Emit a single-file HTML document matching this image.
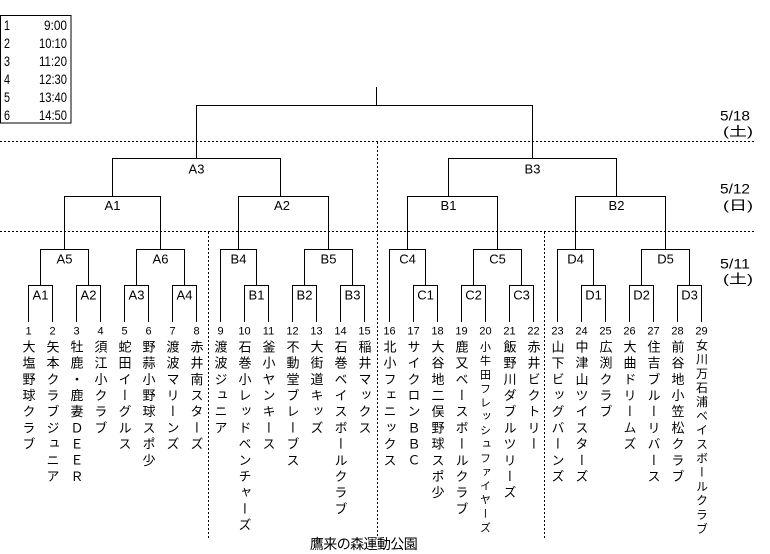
<!DOCTYPE html>
<html><head><meta charset="utf-8"><style>
html,body{margin:0;padding:0;background:#fff;}
#wrap{position:relative;width:770px;height:554px;overflow:hidden;background:#fff;}
svg{position:absolute;left:0;top:0;}
.v{position:absolute;top:339.5px;width:20px;line-height:20px;writing-mode:vertical-rl;text-orientation:mixed;font-family:"Noto Sans CJK JP","Liberation Sans",sans-serif;font-size:13px;letter-spacing:3.2px;color:#000;white-space:nowrap;text-align:start;}
.s20{font-size:11px;letter-spacing:2.9px;top:340.5px;}
.s29{font-size:12px;letter-spacing:2.1px;top:339px;}
</style></head><body><div id="wrap">
<svg width="770" height="554" viewBox="0 0 770 554" xmlns="http://www.w3.org/2000/svg">
<g fill="none" stroke="#000" stroke-width="1">
<rect x="0.5" y="15.5" width="70.5" height="107.5"/>
<g stroke-dasharray="2,2">
<path d="M0 141.5H756M0 231.5H756M377.5 142V538M208.5 232V538M544.5 232V538"/>
</g>
<path d="M376.5 87V105.5"/>
<path d="M196.5 158V105.5H532.5V158.5"/>
<path d="M112.5 196V158.5H280.5V196.5"/>
<path d="M448.5 196V158.5H616.5V196.5"/>
<path d="M64.5 249V196.5H160.5V249"/>
<path d="M238.5 249V196.5H328.5V249"/>
<path d="M407.5 249V196.5H497.5V249"/>
<path d="M575.5 249V196.5H665.5V249"/>
<path d="M40.5 285V249.5H88.5V285"/>
<path d="M136.5 285V249.5H184.5V285"/>
<path d="M220.5 322V249.5H256.5V285"/>
<path d="M304.5 285V249.5H352.5V285"/>
<path d="M389.5 322V249.5H425.5V285"/>
<path d="M473.5 285V249.5H521.5V285"/>
<path d="M557.5 322V249.5H593.5V285"/>
<path d="M641.5 285V249.5H689.5V285"/>
<path d="M28.5 322V285.5H52.5V322"/>
<path d="M76.5 322V285.5H100.5V322"/>
<path d="M124.5 322V285.5H148.5V322"/>
<path d="M172.5 322V285.5H196.5V322"/>
<path d="M244.5 322V285.5H268.5V322"/>
<path d="M292.5 322V285.5H316.5V322"/>
<path d="M340.5 322V285.5H364.5V322"/>
<path d="M413.5 322V285.5H437.5V322"/>
<path d="M461.5 322V285.5H485.5V322"/>
<path d="M509.5 322V285.5H533.5V322"/>
<path d="M581.5 322V285.5H605.5V322"/>
<path d="M629.5 322V285.5H653.5V322"/>
<path d="M677.5 322V285.5H701.5V322"/>
</g>
<g font-family="Liberation Sans, sans-serif" font-size="14" fill="#000">
<text x="4" y="30" textLength="6" lengthAdjust="spacingAndGlyphs">1</text>
<text x="4" y="48" textLength="6" lengthAdjust="spacingAndGlyphs">2</text>
<text x="4" y="66" textLength="6" lengthAdjust="spacingAndGlyphs">3</text>
<text x="4" y="84" textLength="6" lengthAdjust="spacingAndGlyphs">4</text>
<text x="4" y="102" textLength="6" lengthAdjust="spacingAndGlyphs">5</text>
<text x="4" y="120" textLength="6" lengthAdjust="spacingAndGlyphs">6</text>
<text x="44" y="30" textLength="23" lengthAdjust="spacingAndGlyphs">9:00</text>
<text x="39" y="48" textLength="28" lengthAdjust="spacingAndGlyphs">10:10</text>
<text x="39" y="66" textLength="28" lengthAdjust="spacingAndGlyphs">11:20</text>
<text x="39" y="84" textLength="28" lengthAdjust="spacingAndGlyphs">12:30</text>
<text x="39" y="102" textLength="28" lengthAdjust="spacingAndGlyphs">13:40</text>
<text x="39" y="120" textLength="28" lengthAdjust="spacingAndGlyphs">14:50</text>
</g>
<g font-family="Liberation Sans, sans-serif" font-size="14" fill="#000">
<text x="720" y="120.5" textLength="30" lengthAdjust="spacingAndGlyphs">5/18</text>
<text x="720" y="193.5" textLength="30" lengthAdjust="spacingAndGlyphs">5/12</text>
<text x="720" y="268.5" textLength="30" lengthAdjust="spacingAndGlyphs">5/11</text>
</g>
<g font-family="Liberation Sans, Noto Sans CJK JP, sans-serif" font-size="13" fill="#000">
<text x="723" y="136" textLength="30" lengthAdjust="spacingAndGlyphs">(土)</text>
<text x="723" y="210" textLength="30" lengthAdjust="spacingAndGlyphs">(日)</text>
<text x="723" y="283.5" textLength="30" lengthAdjust="spacingAndGlyphs">(土)</text>
</g>
<g font-family="Liberation Sans, sans-serif" font-size="13" fill="#000" text-anchor="middle">
<text x="196.5" y="173.5">A3</text>
<text x="532.5" y="173.5">B3</text>
<text x="112.5" y="210">A1</text>
<text x="282" y="210">A2</text>
<text x="448.5" y="210">B1</text>
<text x="616.5" y="210">B2</text>
<text x="64.5" y="263.5">A5</text>
<text x="160.5" y="263.5">A6</text>
<text x="238.5" y="263.5">B4</text>
<text x="328.5" y="263.5">B5</text>
<text x="407.5" y="263.5">C4</text>
<text x="497.5" y="263.5">C5</text>
<text x="575.5" y="263.5">D4</text>
<text x="665.5" y="263.5">D5</text>
<text x="40.5" y="299.5">A1</text>
<text x="88.5" y="299.5">A2</text>
<text x="136.5" y="299.5">A3</text>
<text x="184.5" y="299.5">A4</text>
<text x="256.5" y="299.5">B1</text>
<text x="304.5" y="299.5">B2</text>
<text x="352.5" y="299.5">B3</text>
<text x="425.5" y="299.5">C1</text>
<text x="473.5" y="299.5">C2</text>
<text x="521.5" y="299.5">C3</text>
<text x="593.5" y="299.5">D1</text>
<text x="641.5" y="299.5">D2</text>
<text x="689.5" y="299.5">D3</text>
</g>
<g font-family="Liberation Sans, sans-serif" font-size="11" fill="#000" text-anchor="middle">
<text x="28.5" y="334.5">1</text><text x="52.5" y="334.5">2</text><text x="76.5" y="334.5">3</text><text x="100.5" y="334.5">4</text>
<text x="124.5" y="334.5">5</text><text x="148.5" y="334.5">6</text><text x="172.5" y="334.5">7</text><text x="196.5" y="334.5">8</text>
<text x="220.5" y="334.5">9</text><text x="244.5" y="334.5">10</text><text x="268.5" y="334.5">11</text><text x="292.5" y="334.5">12</text>
<text x="316.5" y="334.5">13</text><text x="340.5" y="334.5">14</text><text x="364.5" y="334.5">15</text><text x="389.5" y="334.5">16</text>
<text x="413.5" y="334.5">17</text><text x="437.5" y="334.5">18</text><text x="461.5" y="334.5">19</text><text x="485.5" y="334.5">20</text>
<text x="509.5" y="334.5">21</text><text x="533.5" y="334.5">22</text><text x="557.5" y="334.5">23</text><text x="581.5" y="334.5">24</text>
<text x="605.5" y="334.5">25</text><text x="629.5" y="334.5">26</text><text x="653.5" y="334.5">27</text><text x="677.5" y="334.5">28</text>
<text x="701.5" y="334.5">29</text>
</g>
<text x="363.5" y="549" font-family="Noto Sans CJK JP, sans-serif" font-size="14" letter-spacing="-0.6" text-anchor="middle" fill="#000">鷹来の森運動公園</text>
</svg>
<div class="v" style="left:18.5px">大塩野球クラブ</div>
<div class="v" style="left:42.5px">矢本クラブジュニア</div>
<div class="v" style="left:66.5px">牡鹿・鹿妻ＤＥＥＲ</div>
<div class="v" style="left:90.5px">須江小クラブ</div>
<div class="v" style="left:114.5px">蛇田イーグルス</div>
<div class="v" style="left:138.5px">野蒜小野球スポ少</div>
<div class="v" style="left:162.5px">渡波マリーンズ</div>
<div class="v" style="left:186.5px">赤井南スターズ</div>
<div class="v" style="left:210.5px">渡波ジュニア</div>
<div class="v" style="left:234.5px">石巻小レッドベンチャーズ</div>
<div class="v" style="left:258.5px">釜小ヤンキース</div>
<div class="v" style="left:282.5px">不動堂ブレーブス</div>
<div class="v" style="left:306.5px">大街道キッズ</div>
<div class="v" style="left:330.5px">石巻ベイスボールクラブ</div>
<div class="v" style="left:354.5px">稲井マックス</div>
<div class="v" style="left:379.5px">北小フェニックス</div>
<div class="v" style="left:403.5px">サイクロンＢＢＣ</div>
<div class="v" style="left:427.5px">大谷地二俣野球スポ少</div>
<div class="v" style="left:451.5px">鹿又ベースボールクラブ</div>
<div class="v s20" style="left:475.5px">小牛田フレッシュファイヤーズ</div>
<div class="v" style="left:499.5px">飯野川ダブルツリーズ</div>
<div class="v" style="left:523.5px">赤井ビクトリー</div>
<div class="v" style="left:547.5px">山下ビッグバーンズ</div>
<div class="v" style="left:571.5px">中津山ツイスターズ</div>
<div class="v" style="left:595.5px">広渕クラブ</div>
<div class="v" style="left:619.5px">大曲ドリームズ</div>
<div class="v" style="left:643.5px">住吉ブルーリバース</div>
<div class="v" style="left:667.5px">前谷地小笠松クラブ</div>
<div class="v s29" style="left:691.5px">女川万石浦ベイスボールクラブ</div>
</div></body></html>
